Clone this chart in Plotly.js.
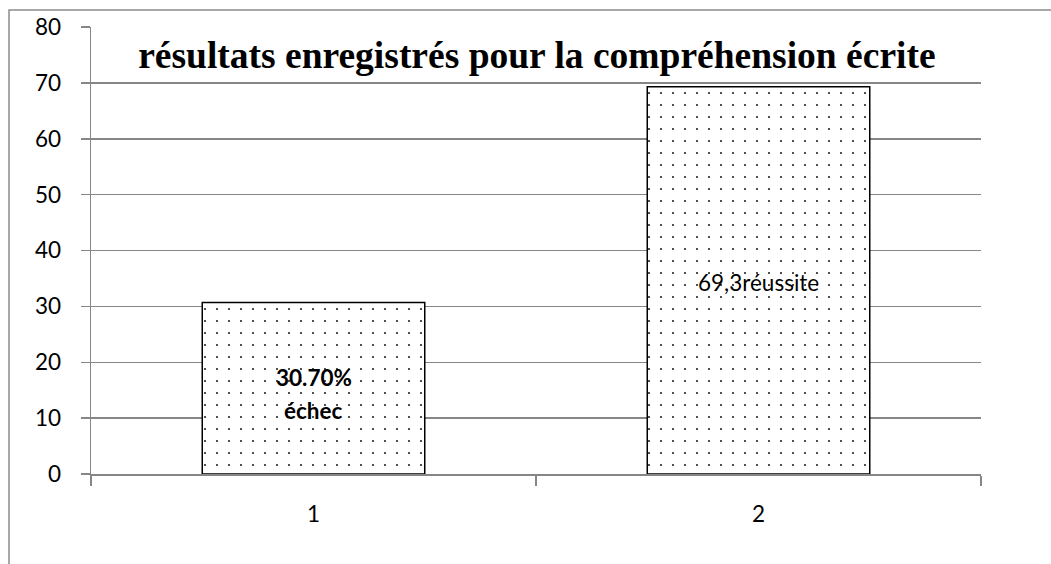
<!DOCTYPE html>
<html>
<head>
<meta charset="utf-8">
<script src="https://cdn.plot.ly/plotly-3.0.1.min.js"></script>
<style>html,body{margin:0;padding:0;background:#fff;}#chart{width:1051px;height:564px;}</style>
</head>
<body>
<div id="chart"></div>
<script>
const categories = ['1', '2'];
const values = [30.7, 69.3];
const labelLines = [['<b>30.70%</b>', '<b>échec</b>'], ['69,3réussite']];
const yTickValues = [0, 10, 20, 30, 40, 50, 60, 70, 80];
const chartTitle = 'résultats enregistrés pour la compréhension écrite';

const grey = '#868686';
const labelFont = {family: 'Lato, Carlito, sans-serif', size: 22.5, color: '#000'};

const trace = {
  type: 'bar',
  x: categories,
  y: values,
  width: 0.5,
  marker: {
    color: '#ffffff',
    line: {color: '#000000', width: 1.5},
    pattern: {shape: '.', fgcolor: '#000000', bgcolor: '#ffffff', size: 12, solidity: 0.018, fillmode: 'replace'}
  },
  hoverinfo: 'none'
};

const annotations = [];
categories.forEach((c, i) => {
  const lines = labelLines[i];
  const n = lines.length;
  lines.forEach((t, j) => {
    annotations.push({
      x: i, y: values[i] / 2, xref: 'x', yref: 'y',
      text: t, showarrow: false, font: labelFont,
      xanchor: 'center', yanchor: 'middle',
      yshift: ((n - 1) / 2 - j) * 33 - 6 * (n - 1) + (n === 1 ? -2 : 0)
    });
  });
});

const layout = {
  width: 1051, height: 564,
  margin: {l: 91, r: 70, t: 27, b: 90, pad: 0},
  paper_bgcolor: '#ffffff', plot_bgcolor: '#ffffff',
  showlegend: false,
  title: {
    text: '<b>' + chartTitle + '</b>',
    font: {family: '"Liberation Serif", "Times New Roman", serif', size: 37.5, color: '#000'},
    x: 0.501, xref: 'paper', xanchor: 'center',
    y: 1 - 55 / 564, yref: 'container', yanchor: 'middle'
  },
  xaxis: {
    type: 'category',
    range: [-0.5, 1.5], autorange: false,
    tickson: 'boundaries',
    ticks: 'outside', ticklen: 10, tickcolor: grey, tickwidth: 1.5,
    showline: true, linecolor: grey, linewidth: 1.5,
    showgrid: false, zeroline: false,
    tickfont: labelFont,
    ticklabelstandoff: 19
  },
  yaxis: {
    range: [0, 80], autorange: false,
    tickvals: yTickValues,
    ticks: 'outside', ticklen: 9, tickcolor: grey, tickwidth: 1.5,
    showline: true, linecolor: grey, linewidth: 1.5,
    showgrid: true, gridcolor: grey, gridwidth: 1.5,
    zeroline: false,
    tickfont: labelFont,
    ticklabelstandoff: 15
  },
  annotations: annotations,
  shapes: [{
    type: 'rect', xref: 'paper', yref: 'paper',
    x0: (9 - 91) / 890, x1: (1060 - 91) / 890,
    y0: (474 - 580) / 447, y1: (474 - 10) / 447,
    line: {color: '#8c8c8c', width: 1.5}, fillcolor: 'rgba(0,0,0,0)', layer: 'below'
  }]
};

Plotly.newPlot('chart', [trace], layout, {staticPlot: true, displayModeBar: false});
</script>
</body>
</html>
